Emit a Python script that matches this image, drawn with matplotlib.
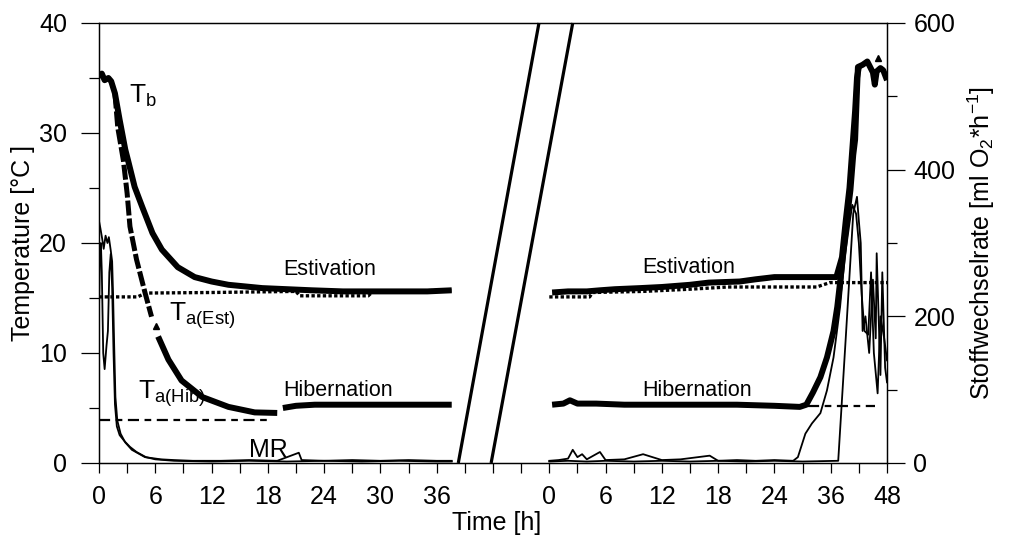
import numpy as np
import matplotlib
matplotlib.use("Agg")
import matplotlib.pyplot as plt

plt.rcParams['font.family'] = 'Liberation Sans'
plt.rcParams['mathtext.fontset'] = 'custom'
plt.rcParams['mathtext.rm'] = 'Liberation Sans'
plt.rcParams['mathtext.it'] = 'Liberation Sans:italic'

# right panel starts here on the shared time axis (second record)
OFFSET = 48

# ---- first record (0..38 h) ----
tb_est_t = [0, 0.3, 0.6, 1.0, 1.3, 1.7, 2.2, 2.8, 3.1, 3.8, 4.6, 5.7, 6.7, 8.4, 10.2, 12,
            13.8, 17.4, 22.7, 26, 30, 33, 35, 37.6]
tb_est = [35.1, 35.4, 34.8, 35.0, 34.7, 33.6, 31.2, 28.5, 27.5, 25.1, 23.3, 20.9, 19.4, 17.8,
          16.9, 16.5, 16.2, 15.9, 15.7, 15.6, 15.6, 15.6, 15.6, 15.7]

tb_hib_drop_t = [1.7, 2.0, 2.6, 3.0, 3.3, 4.0, 4.9, 5.6]
tb_hib_drop = [33.6, 30.5, 27.5, 24.5, 21.5, 18.5, 15.5, 13.3]
tb_hib_cool_t = [6.3, 7.4, 8.8, 11.0, 13.8, 16.6, 19.0]
tb_hib_cool = [11.5, 9.4, 7.5, 6.0, 5.1, 4.6, 4.55]
tb_hib_rest_t = [19.6, 21, 23, 26, 30, 34, 37.6]
tb_hib_rest = [5.0, 5.2, 5.3, 5.3, 5.3, 5.3, 5.3]

ta_est_t = [0, 4.1, 5.0, 12, 21.0, 21.4, 28.7, 29.2, 37.6]
ta_est = [15.1, 15.1, 15.45, 15.5, 15.6, 15.2, 15.2, 15.6, 15.7]
ta_hib_t = [0, 18.4]
ta_hib = [3.9, 3.9]

mr_a_t = [0, 0.15, 0.35, 0.5, 0.7, 0.9, 1.05, 1.25, 1.4, 1.5, 1.6, 1.75, 1.95, 2.3, 2.8, 3.5,
          4.9, 6.6, 8, 10, 13, 16, 19, 21.3, 21.6, 24, 27, 30, 33, 36, 37.6]
mr_a = [330, 320, 305, 292, 310, 300, 308, 290, 275, 230, 170, 90, 58, 40, 28, 18, 8, 5, 4, 3,
        3, 4, 3, 14, 4, 3, 4, 3, 4, 3, 3]
mr_b_t = [0, 0.1, 0.2, 0.3, 0.45, 0.6, 0.8, 0.95, 1.1, 1.25, 1.4, 1.55, 1.7, 1.9, 2.2, 2.7,
          3.3, 4.0, 5.0, 6.0, 8, 12, 16, 20, 24, 28, 32, 36, 37.6]
mr_b = [210, 280, 300, 260, 150, 128, 160, 180, 260, 285, 240, 150, 80, 50, 38, 30, 22, 15, 8,
        5, 3, 2, 3, 2, 3, 2, 3, 2, 2]

# ---- second record (panel position 0..36, labelled 0..24, 36, 48 h) ----
r_tb_est_t = [0.3, 2, 4, 5.4, 7, 9.7, 12, 15, 17, 20.3, 22, 24, 26, 28, 30.6, 31.2, 31.6, 32.0,
              32.3, 32.6, 32.8, 33.0]
r_tb_est = [15.5, 15.6, 15.6, 15.7, 15.8, 15.9, 16.0, 16.2, 16.4, 16.5, 16.7, 16.9, 16.9, 16.9,
            16.9, 18.7, 22.0, 25.0, 28.5, 32.0, 35.0, 36.0]
r_tb_hib_t = [0.3, 1.5, 2.2, 3, 5, 8, 12, 16, 20, 24, 26.7, 27.4, 28.1, 28.9, 29.6, 30.3, 30.7,
              31.3, 31.7, 32.1, 32.4, 32.6, 32.8, 32.9, 33.4, 33.9, 34.2, 34.5, 34.7, 34.9, 35.3,
              35.6, 36.0]
r_tb_hib = [5.3, 5.4, 5.7, 5.4, 5.4, 5.3, 5.3, 5.3, 5.3, 5.2, 5.1, 5.3, 6.4, 7.8, 9.6, 12.0,
            14.2, 18.7, 22.0, 24.8, 28.0, 29.4, 33.9, 36.0, 36.2, 36.5, 36.0, 35.5, 34.4, 35.6,
            35.9, 35.7, 34.8]
r_ta_est_t = [0, 4.3, 4.6, 10, 15, 19, 28.5, 29.9, 36]
r_ta_est = [15.1, 15.1, 15.5, 15.6, 15.8, 16.0, 16.0, 16.4, 16.4]
r_ta_hib_t = [27.6, 34.7]
r_ta_hib = [5.15, 5.15]

r_mr_a_t = [0, 1, 2, 2.5, 3, 3.5, 4, 5.4, 6, 8, 10, 12, 14, 17.1, 18, 20, 22, 24, 26, 26.5,
            27.3, 28.0, 28.9, 29.6, 30.3, 31.0, 31.5, 32.0, 32.3, 32.7, 33.0, 33.3, 33.6, 34.0,
            34.3, 34.6, 35.0, 35.3, 35.7, 36.0]
r_mr_a = [3, 4, 6, 18, 8, 12, 5, 15, 4, 5, 12, 4, 5, 10, 3, 4, 3, 4, 3, 8, 40, 54, 68, 99, 144,
          213, 281, 327, 352, 340, 300, 230, 180, 175, 260, 150, 95, 200, 170, 140]
r_mr_b_t = [0, 2, 4, 6, 9, 12, 15, 18, 21, 24, 27, 30.8, 31.6, 32.4, 32.8, 33.0, 33.2, 33.4,
            33.7, 34.1, 34.5, 34.8, 34.9, 35.3, 35.5, 35.8, 36.0]
r_mr_b = [2, 3, 2, 3, 2, 3, 2, 3, 2, 3, 2, 3, 170, 340, 363, 330, 300, 180, 200, 150, 250, 170,
          286, 120, 260, 130, 110]

# single triangle markers left in the records
tri_t = [6.1, OFFSET + 35.05]
tri_v = [12.5, 36.8]

# tick labels of the broken axis
left_tick_pos = [0, 6, 12, 18, 24, 30, 36]
right_tick_pos = [0, 6, 12, 18, 24, 30, 36]
right_tick_lab = ['0', '6', '12', '18', '24', '36', '48']


def shift(ts):
    return np.asarray(ts) + OFFSET


fig = plt.figure(figsize=(10.1, 5.42), dpi=100)
ax = fig.add_axes([99 / 1010, 1 - 463 / 542, 788 / 1010, 440 / 542])
ax2 = ax.twinx()

thick = dict(color='black', lw=4.3, solid_capstyle='butt')
# body temperature
ax.plot(tb_est_t, tb_est, **thick)
ax.plot(tb_hib_drop_t, tb_hib_drop, color='black', lw=3.6, ls=(0, (3, 0.6)))
ax.plot(tb_hib_cool_t, tb_hib_cool, **thick)
ax.plot(tb_hib_rest_t, tb_hib_rest, **thick)
ax.plot(shift(r_tb_est_t), r_tb_est, **thick)
ax.plot(shift(r_tb_hib_t), r_tb_hib, **thick)
ax.plot(tri_t, tri_v, ls='none', marker='^', ms=5, color='black')

# ambient temperature
ax.plot(ta_est_t, ta_est, color='black', lw=2.4, ls=(0, (1.0, 0.7)))
ax.plot(shift(r_ta_est_t), r_ta_est, color='black', lw=2.4, ls=(0, (1.0, 0.7)))
ax.plot(ta_hib_t, ta_hib, color='black', lw=1.6, ls=(0, (5, 2.5, 3, 2.5)))
ax.plot(shift(r_ta_hib_t), r_ta_hib, color='black', lw=1.6, ls=(0, (5, 2.5, 3, 2.5)))

# metabolic rate on the right axis
for t, v in [(mr_a_t, mr_a), (mr_b_t, mr_b)]:
    ax2.plot(t, v, color='black', lw=1.3)
for t, v in [(r_mr_a_t, r_mr_a), (r_mr_b_t, r_mr_b)]:
    ax2.plot(shift(t), v, color='black', lw=1.3)

# axis break marks
for x0, x1 in [(38.3, 46.9), (41.8, 50.5)]:
    ax.plot([x0, x1], [0, 40], color='black', lw=2.3, solid_capstyle='butt', clip_on=False)

ax.set_xlim(0, 84)
ax.set_ylim(0, 40)
ax2.set_ylim(0, 600)

xt = list(range(0, 85, 3))
labels = {p: str(p) for p in left_tick_pos}
labels.update({p + OFFSET: l for p, l in zip(right_tick_pos, right_tick_lab)})
ax.set_xticks(xt)
ax.set_xticklabels([labels.get(p, '') for p in xt])
ax.set_yticks([0, 10, 20, 30, 40])
ax.set_yticks([5, 15, 25, 35], minor=True)
ax2.set_yticks([0, 200, 400, 600])
ax2.set_yticks([100, 300, 500], minor=True)

ax.tick_params(axis='x', direction='out', length=7, width=0.9, labelsize=18, pad=9)
ax.tick_params(axis='y', which='major', direction='out', length=13, width=0.9, labelsize=18, pad=10)
ax.tick_params(axis='y', which='minor', direction='out', length=7, width=0.9)
ax2.tick_params(axis='y', which='major', direction='out', length=13, width=0.9, labelsize=18, pad=6)
ax2.tick_params(axis='y', which='minor', direction='out', length=7, width=0.9)
for a in (ax, ax2):
    for s in a.spines.values():
        s.set_linewidth(0.9)

ax.set_ylabel('Temperature [°C ]', fontsize=18)
ax.yaxis.set_label_coords(-0.081, 0.5)
ax.set_xlabel('Time [h]', fontsize=18)
ax.xaxis.set_label_coords(0.504, -0.108)
ax2.set_ylabel('Stoffwechselrate [ml O$_2$*h$^{-1}$]', fontsize=18)
ax2.yaxis.set_label_coords(1.100, 0.5)

# curve labels
ax.text(3.2, 33.4, 'T$_\\mathrm{b}$', fontsize=19, va='center')
ax.text(7.5, 13.4, 'T$_\\mathrm{a(Est)}$', fontsize=19, va='center')
ax.text(4.2, 6.3, 'T$_\\mathrm{a(Hib)}$', fontsize=19, va='center')
ax.text(16.0, 1.2, 'MR', fontsize=18, va='center')
for x in (19.6, OFFSET + 9.9):
    ax.text(x, 17.6 if x < 40 else 17.8, 'Estivation', fontsize=15.5, va='center')
    ax.text(x, 6.6, 'Hibernation', fontsize=15.5, va='center')

fig.savefig('out.png', dpi=100)
